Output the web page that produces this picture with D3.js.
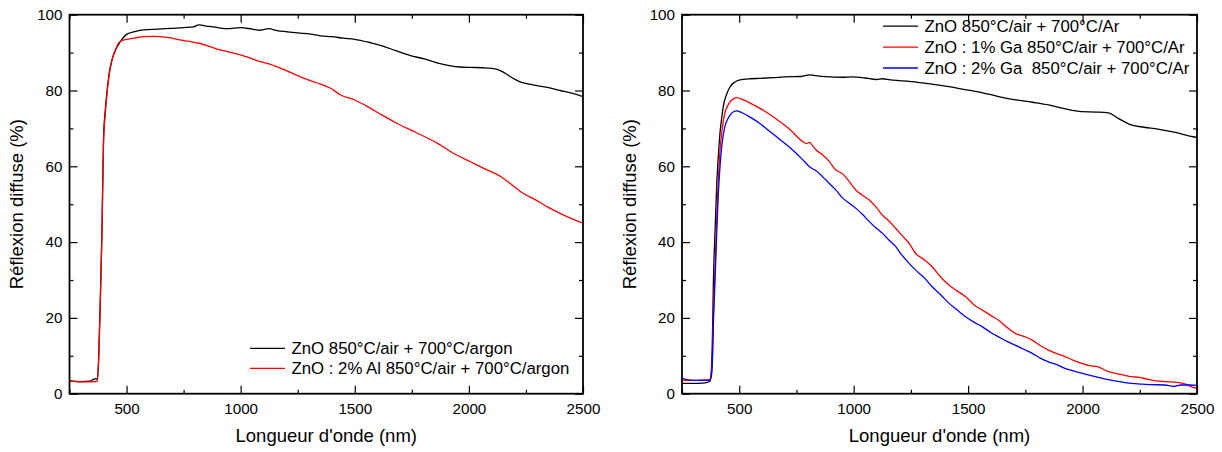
<!DOCTYPE html>
<html><head><meta charset="utf-8">
<script src="https://cdn.jsdelivr.net/npm/d3@7"></script>
<style>
body{margin:0;background:#fff;}
text{font-family:"Liberation Sans",Arial,sans-serif;fill:#000;}
</style></head>
<body><svg id="c" width="1222" height="452"></svg>
<script>
// ---- data ----
const xTicksMajor = [500, 1000, 1500, 2000, 2500];
const yTicksMajor = [0, 20, 40, 60, 80, 100];

// Left panel
const leftZnO_wl = [250,300,340,355,365,372,378,385,392,399,407,414,425,436,450,472,500,540,575,640,692,750,794,816,860,900,940,1000,1050,1086,1123,1160,1203,1250,1306,1350,1400,1450,1500,1569,1620,1680,1744,1800,1860,1920,1960,2007,2060,2124,2160,2200,2227,2280,2344,2400,2450,2500];
const leftZnO_R  = [3.4,3.2,3.3,3.8,4.0,3.8,10,25,42,67,75,79.5,85,88,90.5,92.8,94.8,95.6,96,96.2,96.4,96.6,96.8,97.3,96.9,96.6,96.3,96.6,96.2,95.9,96.3,95.8,95.5,95.2,94.9,94.4,94.2,93.8,93.5,92.6,91.8,90.5,89.2,88.4,87.3,86.5,86.2,86.1,86.0,85.6,84.5,83.0,82.2,81.5,80.8,80.0,79.3,78.4];
const leftAl_wl = [250,300,340,360,372,378,385,392,399,407,414,425,436,450,465,480,502,540,575,620,648,700,721,770,823,870,911,960,999,1040,1086,1130,1174,1220,1262,1320,1350,1394,1438,1500,1569,1620,1680,1744,1800,1861,1930,2007,2070,2139,2180,2227,2290,2344,2420,2500];
const leftAl_R  = [3.3,3.1,3.1,3.2,3.3,9,24,42,66,74,79,84.5,88,90.5,92.5,93.2,93.5,93.9,94.2,94.3,94.2,93.8,93.5,93.0,92.4,91.5,90.7,90.0,89.4,88.6,87.6,86.9,85.9,84.7,83.6,82.3,81.7,80.6,78.8,77.5,75.3,73.5,71.5,69.6,68.0,66.1,63.5,61.2,59.3,57.3,55.5,53.3,51.2,49.3,47.0,45.0];

// Right panel
const rightZnO_wl = [250,300,340,360,372,378,383,387,395,402,409,416,423,430,445,460,480,503,550,590,650,700,770,807,850,900,950,996,1050,1100,1126,1160,1199,1242,1300,1350,1416,1480,1550,1633,1700,1780,1851,1920,1996,2060,2112,2160,2213,2270,2329,2400,2482,2500];
const rightZnO_R  = [2.7,2.7,2.8,3.0,3.3,6,15,29,44,55.5,63,68.8,72.5,75.7,79,81,82.2,82.8,83.1,83.2,83.4,83.6,83.7,84.1,83.8,83.6,83.5,83.6,83.3,82.9,83.1,82.8,82.6,82.4,82.0,81.6,81.0,80.3,79.6,78.4,77.6,76.9,76.2,75.2,74.4,74.3,74.1,72.5,70.9,70.3,69.8,69.0,67.8,67.6];
const rightGa1_wl = [250,300,340,370,378,383,387,395,402,409,416,425,437,450,460,475,489,518,550,590,630,677,720,778,795,807,820,836,865,890,923,952,980,1010,1040,1068,1097,1126,1155,1184,1215,1242,1271,1310,1343,1380,1416,1450,1489,1525,1561,1600,1633,1670,1706,1740,1778,1815,1851,1890,1923,1960,1996,2030,2068,2105,2141,2180,2213,2250,2286,2320,2358,2390,2416,2450,2482,2500];
const rightGa1_R  = [3.6,3.5,3.6,3.7,5,10,20.3,34,46.7,57,64.3,69.5,74,76,77,77.8,78.1,77.5,76.6,75.3,73.8,71.8,69.8,66.5,66.0,66.3,65.5,64.3,63.0,61.5,59.0,58.0,56.0,53.7,52.3,51.1,49.3,47.1,45.5,43.6,41.5,39.7,37.0,35.3,33.5,30.8,28.7,27.2,25.6,23.5,22.1,20.6,19.4,17.5,15.9,15.2,14.2,12.7,11.5,10.5,9.8,8.8,8.0,7.4,7.1,6.0,5.4,4.9,4.5,4.3,3.8,3.4,3.2,3.1,3.0,2.5,1.7,1.5];
const rightGa2_wl = [250,270,300,340,370,378,383,387,395,402,409,416,425,437,450,460,475,489,510,532,560,590,630,677,720,778,807,836,880,923,952,980,1010,1040,1068,1097,1126,1155,1184,1199,1242,1271,1310,1343,1380,1416,1450,1489,1525,1561,1600,1633,1670,1706,1740,1778,1815,1851,1890,1923,1960,1996,2030,2068,2105,2141,2180,2213,2260,2300,2358,2400,2430,2470,2500];
const rightGa2_R  = [4.1,3.7,3.5,3.5,3.6,4.5,9,18,31,43,53,59.9,66,70.4,72.5,73.5,74.4,74.6,74.2,73.5,72.5,71.3,69.4,67.1,65.0,61.7,59.9,58.8,56.3,53.7,51.6,50.3,48.9,47.2,45.4,43.8,42.3,40.5,38.8,37.5,34.4,32.6,30.5,28.2,26.1,23.9,22.2,20.3,18.9,17.7,16.1,15.0,13.8,12.8,11.8,10.7,9.4,8.4,7.6,6.7,6.0,5.4,4.9,4.3,3.8,3.4,3.0,2.7,2.5,2.4,2.3,1.9,2.3,2.3,2.2];

const xTitle = "Longueur d'onde (nm)";
const yTitle = "Réflexion diffuse (%)";

const leftLegend = ["ZnO 850°C/air + 700°C/argon", "ZnO : 2% Al 850°C/air + 700°C/argon"];
const rightLegend = ["ZnO 850°C/air + 700°C/Ar", "ZnO : 1% Ga 850°C/air + 700°C/Ar", "ZnO : 2% Ga  850°C/air + 700°C/Ar"];

const zip = (w, r) => w.map((d, i) => [d, r[i]]);

const panels = [
  { x0: 69.5, x1: 583, series: [
      {data: zip(leftZnO_wl, leftZnO_R), color: "#000"},
      {data: zip(leftAl_wl, leftAl_R), color: "#ff0000"}],
    legend: leftLegend, legX: 250, legY: 348.3, legDy: 20, ylabX: 23 },
  { x0: 682, x1: 1197, series: [
      {data: zip(rightZnO_wl, rightZnO_R), color: "#000"},
      {data: zip(rightGa1_wl, rightGa1_R), color: "#ff0000"},
      {data: zip(rightGa2_wl, rightGa2_R), color: "#0000ff"}],
    legend: rightLegend, legX: 883, legY: 26.2, legDy: 20.9, ylabX: 636 }
];

const svg = d3.select("#c");
const yTop = 14.7, yBot = 393.7;

panels.forEach(p => {
  const x = d3.scaleLinear().domain([250, 2500]).range([p.x0, p.x1]);
  const y = d3.scaleLinear().domain([0, 100]).range([yBot, yTop]);
  const g = svg.append("g");
  const xMinor = d3.range(250, 2501, 250).filter(v => v % 500 !== 0);
  const yMinor = d3.range(10, 100, 20);

  const styleAxis = sel => { sel.select(".domain").remove(); sel.selectAll("line").attr("stroke","#000").attr("stroke-width",1.2); };

  g.append("g").attr("transform",`translate(0,${yBot})`)
    .call(d3.axisBottom(x).tickValues(xTicksMajor).tickSize(-8).tickPadding(10).tickFormat(d3.format("d")))
    .call(styleAxis).selectAll("text").attr("font-size",15.2).attr("font-family","Liberation Sans, Arial, sans-serif");
  g.append("g").attr("transform",`translate(0,${yBot})`)
    .call(d3.axisBottom(x).tickValues(xMinor).tickSize(-4).tickFormat(""))
    .call(styleAxis);
  g.append("g").attr("transform",`translate(0,${yTop})`)
    .call(d3.axisTop(x).tickValues(xTicksMajor).tickSize(-8).tickFormat(""))
    .call(styleAxis);
  g.append("g").attr("transform",`translate(0,${yTop})`)
    .call(d3.axisTop(x).tickValues(xMinor).tickSize(-4).tickFormat(""))
    .call(styleAxis);

  g.append("g").attr("transform",`translate(${p.x0},0)`)
    .call(d3.axisLeft(y).tickValues(yTicksMajor).tickSize(-8).tickPadding(7))
    .call(styleAxis).selectAll("text").attr("font-size",15.2).attr("font-family","Liberation Sans, Arial, sans-serif");
  g.append("g").attr("transform",`translate(${p.x0},0)`)
    .call(d3.axisLeft(y).tickValues(yMinor).tickSize(-4).tickFormat(""))
    .call(styleAxis);
  g.append("g").attr("transform",`translate(${p.x1},0)`)
    .call(d3.axisRight(y).tickValues(yTicksMajor).tickSize(-8).tickFormat(""))
    .call(styleAxis);
  g.append("g").attr("transform",`translate(${p.x1},0)`)
    .call(d3.axisRight(y).tickValues(yMinor).tickSize(-4).tickFormat(""))
    .call(styleAxis);

  const clipId = "clip" + Math.round(p.x0);
  svg.append("clipPath").attr("id", clipId).append("rect")
    .attr("x", p.x0).attr("y", yTop).attr("width", p.x1 - p.x0).attr("height", yBot - yTop);

  const line = d3.line().x(d => x(d[0])).y(d => y(d[1])).curve(d3.curveMonotoneX);
  p.series.forEach(s => {
    g.append("path").datum(s.data).attr("d", line)
      .attr("fill","none").attr("stroke", s.color).attr("stroke-width",1.3)
      .attr("clip-path", `url(#${clipId})`);
  });

  g.append("rect").attr("x", p.x0).attr("y", yTop).attr("width", p.x1 - p.x0).attr("height", yBot - yTop)
    .attr("fill","none").attr("stroke","#000").attr("stroke-width",1.8);

  // titles
  g.append("text").attr("x", (p.x0 + p.x1) / 2).attr("y", 442).attr("text-anchor","middle")
    .attr("font-size", 18.5).text(xTitle);
  g.append("text").attr("transform", `translate(${p.ylabX},${(yTop + yBot) / 2}) rotate(-90)`)
    .attr("text-anchor","middle").attr("font-size", 18.5).text(yTitle);

  // legend
  p.legend.forEach((t, i) => {
    const yy = p.legY + i * p.legDy;
    g.append("line").attr("x1", p.legX).attr("x2", p.legX + 35).attr("y1", yy).attr("y2", yy)
      .attr("stroke", p.series[i].color).attr("stroke-width", 1.3);
    g.append("text").attr("x", p.legX + 41.5).attr("y", yy).attr("dy","0.35em")
      .attr("font-size", 16.8).attr("xml:space","preserve").style("white-space","pre").text(t);
  });
});
</script></body></html>
